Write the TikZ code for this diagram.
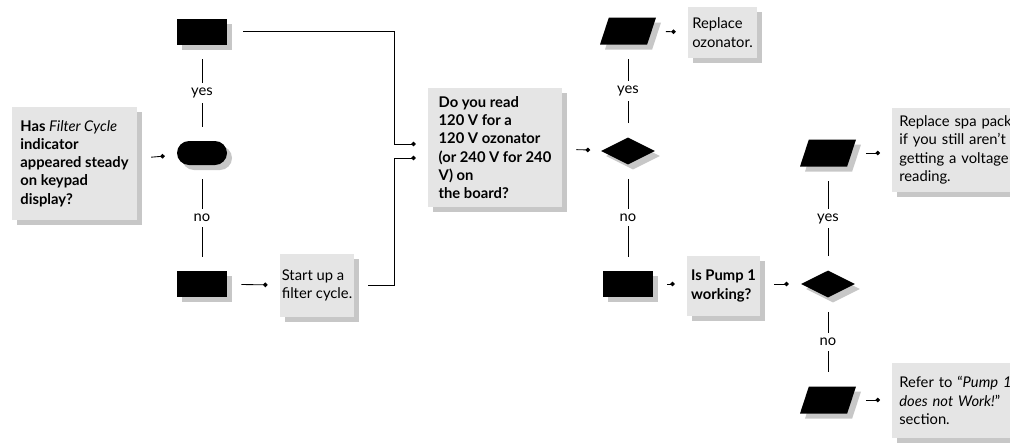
\documentclass[tikz,border=0pt]{standalone}
\usepackage{fontspec}
\setmainfont{Lato}
\usetikzlibrary{shapes.geometric,shadows,arrows.meta,calc}

\tikzset{
  shade/.style={drop shadow={shadow xshift=1.25mm, shadow yshift=-1.25mm, fill=black!22, opacity=1}},
  term/.style={rectangle, fill=black, inner sep=0pt, minimum width=12.5mm, minimum height=6.5mm, shade},
  oval/.style={rectangle, rounded corners=3mm, fill=black, inner sep=0pt, minimum width=12.5mm, minimum height=6mm, shade},
  dec/.style={diamond, fill=black, inner sep=0pt, minimum width=13.5mm, minimum height=6.75mm, shade},
  para/.style={trapezium, trapezium left angle=77, trapezium right angle=103, trapezium stretches=true,
    fill=black, inner sep=1pt, minimum width=14mm, minimum height=6.75mm, shade},
  note/.style={rectangle, fill=black!10, align=left, inner sep=0.5mm,
    font=\fontsize{10.5}{13}\selectfont, shade},
  bold/.style={font=\fontsize{10.5}{13}\selectfont\bfseries},
  flow/.style={line width=0.6pt, -{Circle[length=3.2pt]}, shorten <=3.5mm, shorten >=3mm},
  link/.style={line width=0.6pt, shorten <=3.5mm, shorten >=3.5mm},
  lab/.style={fill=white, inner xsep=1.5mm, inner ysep=1.2mm, font=\fontsize{10.5}{12}\selectfont}
}

\begin{document}
\begin{tikzpicture}[x=0.25mm, y=-0.25mm]
  \useasboundingbox (0,0) rectangle (1010,444);
  \clip (0,0) rectangle (1010,444);

  % first question
  \node[term] (fcyes) at (202,31.5) {};
  \node[oval] (fcask) at (202,153) {};
  \node[term] (fcno) at (202,284) {};
  \node[note, bold, minimum width=31.25mm, minimum height=28.25mm] (hasfc) at (74.5,163.5)
    {Has {\mdseries\itshape Filter Cycle}\\indicator\\appeared steady\\on keypad\\display?};
  \node[note, minimum width=18.5mm, minimum height=15.75mm] (start) at (317,285.5)
    {Start up a\\filter cycle.};

  % ozonator
  \node[note, bold, minimum width=33.5mm, minimum height=29.75mm] (ask) at (495,147.5)
    {Do you read\\120 V for a\\120 V ozonator\\(or 240 V for 240\\V) on\\the board?};
  \node[para] (ozyes) at (628,31) {};
  \node[dec] (ozask) at (628,151) {};
  \node[term] (ozno) at (628,284) {};
  \node[note, minimum width=17.25mm, minimum height=12.75mm] (ozon) at (722.5,32.5)
    {Replace\\ozonator.};

  % pump
  \node[note, bold, minimum width=18.25mm, minimum height=15mm] (pump) at (723.5,286)
    {Is Pump 1\\working?};
  \node[dec] (pumpask) at (828,284) {};
  \node[para] (spayes) at (828,153) {};
  \node[para] (pumpno) at (828,400) {};
  \node[note, anchor=west, text width=42mm, inner xsep=1.75mm, minimum height=21mm] (spa) at (892,150)
    {Replace spa pack\\if you still aren’t\\getting a voltage\\reading.};
  \node[note, anchor=west, text width=42mm, inner xsep=1.75mm, minimum height=18.75mm] (refer) at (892,400.5)
    {Refer to “{\itshape Pump 1\\does not Work!}”\\section.};

  % connectors
  \draw[flow] (hasfc) -- (fcask);
  \draw[link] (fcask) -- node[lab] {yes} (fcyes);
  \draw[link] (fcask) -- node[lab] {no} (fcno);
  \draw[flow] (fcno) -- (start);
  \draw[flow, shorten <=4mm] (fcyes.east) -| ($(ask.west)+(-33,-3.5)$) -- ($(ask.west)+(0,-3.5)$);
  \draw[flow] (start.east) -| ($(ask.west)+(-33,10.5)$) -- ($(ask.west)+(0,10.5)$);
  \draw[flow] (ask) -- (ozask);
  \draw[link] (ozask) -- node[lab] {yes} (ozyes);
  \draw[link] (ozask) -- node[lab] {no} (ozno);
  \draw[flow] (ozyes) -- (ozon);
  \draw[flow] (ozno) -- (pump.west |- ozno);
  \draw[flow] (pump.east |- pumpask) -- (pumpask);
  \draw[link] (pumpask) -- node[lab] {yes} (spayes);
  \draw[link] (pumpask) -- node[lab] {no} (pumpno);
  \draw[flow] (spayes) -- (spa.west |- spayes);
  \draw[flow] (pumpno) -- (refer.west |- pumpno);
\end{tikzpicture}
\end{document}
